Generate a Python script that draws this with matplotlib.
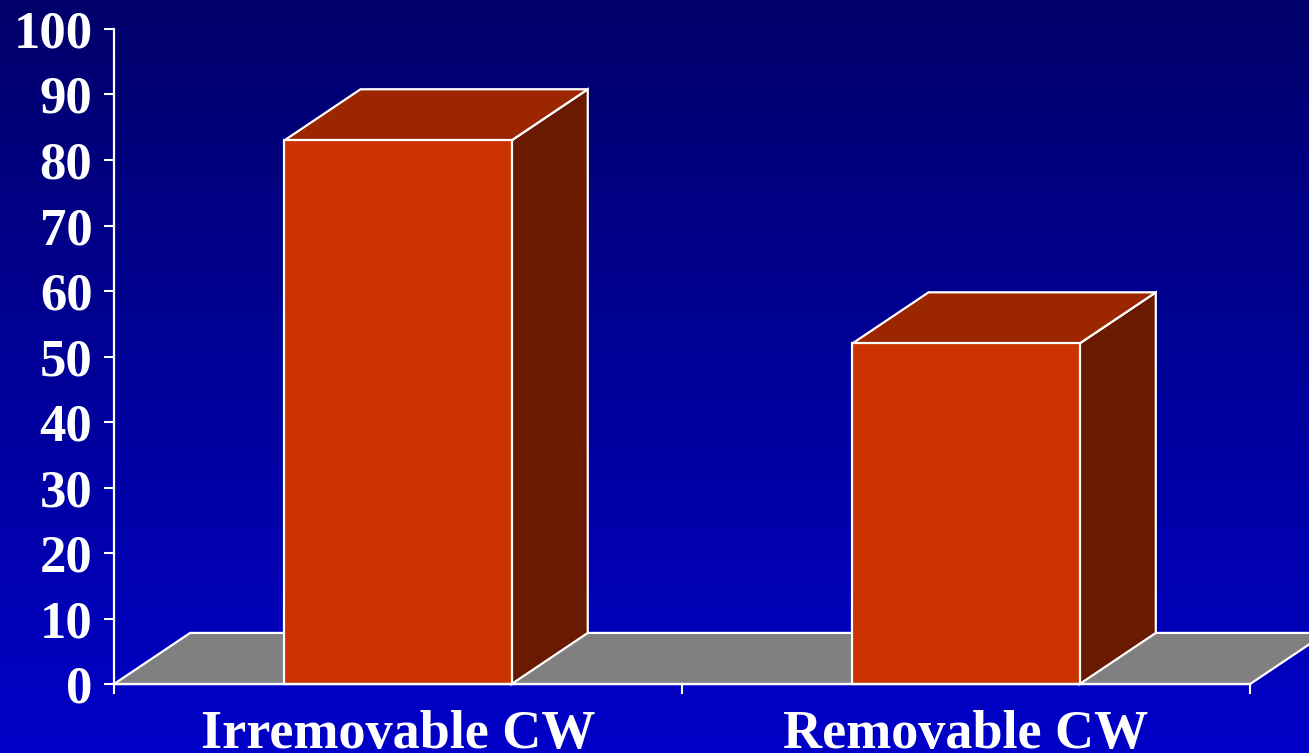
import numpy as np
import matplotlib
matplotlib.use("Agg")
import matplotlib.pyplot as plt
from matplotlib.patches import Polygon
from matplotlib.colors import LinearSegmentedColormap

# Chart data
categories = ["Irremovable CW", "Removable CW"]
values = [83, 52]
y_ticks = list(range(0, 101, 10))

# Styling
FRONT = "#CC3300"
TOP = "#9B2600"
SIDE = "#6A1A00"
FLOOR = "#808080"
EDGE = "white"
BAR_WIDTH = 0.4
DEPTH_X = 0.134   # depth offset along x (data units)
DEPTH_Y = 7.8     # depth offset along y (data units)
FONT = ["Liberation Serif", "DejaVu Serif"]

fig = plt.figure(figsize=(13.09, 7.53), dpi=100)

# Vertical gradient background
bg = fig.add_axes([0, 0, 1, 1], zorder=0)
grad = np.linspace(0, 1, 256).reshape(-1, 1)
cmap = LinearSegmentedColormap.from_list("bg", ["#0000C8", "#00006A"])
bg.imshow(grad, aspect="auto", cmap=cmap, origin="lower", extent=[0, 1, 0, 1])
bg.set_axis_off()

ax = fig.add_axes([0.0871, 0.0916, 0.8679, 0.8699], zorder=1)
ax.patch.set_visible(False)
n = len(categories)
ax.set_xlim(0, n)
ax.set_ylim(0, 100)

lw = 1.6

# Floor parallelogram
floor = Polygon([(0, 0), (n, 0), (n + DEPTH_X, DEPTH_Y), (DEPTH_X, DEPTH_Y)],
                closed=True, facecolor=FLOOR, edgecolor=EDGE, linewidth=lw,
                clip_on=False, zorder=2)
ax.add_patch(floor)

# 3D bars
for i, v in enumerate(values):
    x0 = i + 0.5 - BAR_WIDTH / 2
    x1 = i + 0.5 + BAR_WIDTH / 2
    side = Polygon([(x1, 0), (x1 + DEPTH_X, DEPTH_Y), (x1 + DEPTH_X, v + DEPTH_Y), (x1, v)],
                   closed=True, facecolor=SIDE, edgecolor=EDGE, linewidth=lw,
                   joinstyle="miter", zorder=3, clip_on=False)
    top = Polygon([(x0, v), (x1, v), (x1 + DEPTH_X, v + DEPTH_Y), (x0 + DEPTH_X, v + DEPTH_Y)],
                  closed=True, facecolor=TOP, edgecolor=EDGE, linewidth=lw,
                  joinstyle="miter", zorder=3, clip_on=False)
    ax.add_patch(side)
    ax.add_patch(top)
    ax.bar(i + 0.5, v, width=BAR_WIDTH, color=FRONT, edgecolor=EDGE,
           linewidth=lw, zorder=4, clip_on=False)

# Axes styling
for s in ["top", "right"]:
    ax.spines[s].set_visible(False)
for s in ["left", "bottom"]:
    ax.spines[s].set_color(EDGE)
    ax.spines[s].set_linewidth(lw)
ax.spines["bottom"].set_zorder(5)

ax.set_yticks(y_ticks)
ax.set_yticklabels([str(t) for t in y_ticks], fontfamily=FONT,
                   fontweight="bold", fontsize=38, color="white")
ax.tick_params(axis="y", direction="out", length=7.5, width=1.5,
               color="white", pad=8)

ax.set_xticks(range(n + 1))
ax.set_xticklabels([])
ax.set_xticks([i + 0.5 for i in range(n)], minor=True)
ax.set_xticklabels(categories, minor=True, fontfamily=FONT,
                   fontweight="bold", fontsize=39, color="white")
ax.tick_params(axis="x", which="major", direction="out", length=7,
               width=1.5, color="white")
ax.tick_params(axis="x", which="minor", length=0, pad=19)

fig.savefig("out.png", dpi=100)
